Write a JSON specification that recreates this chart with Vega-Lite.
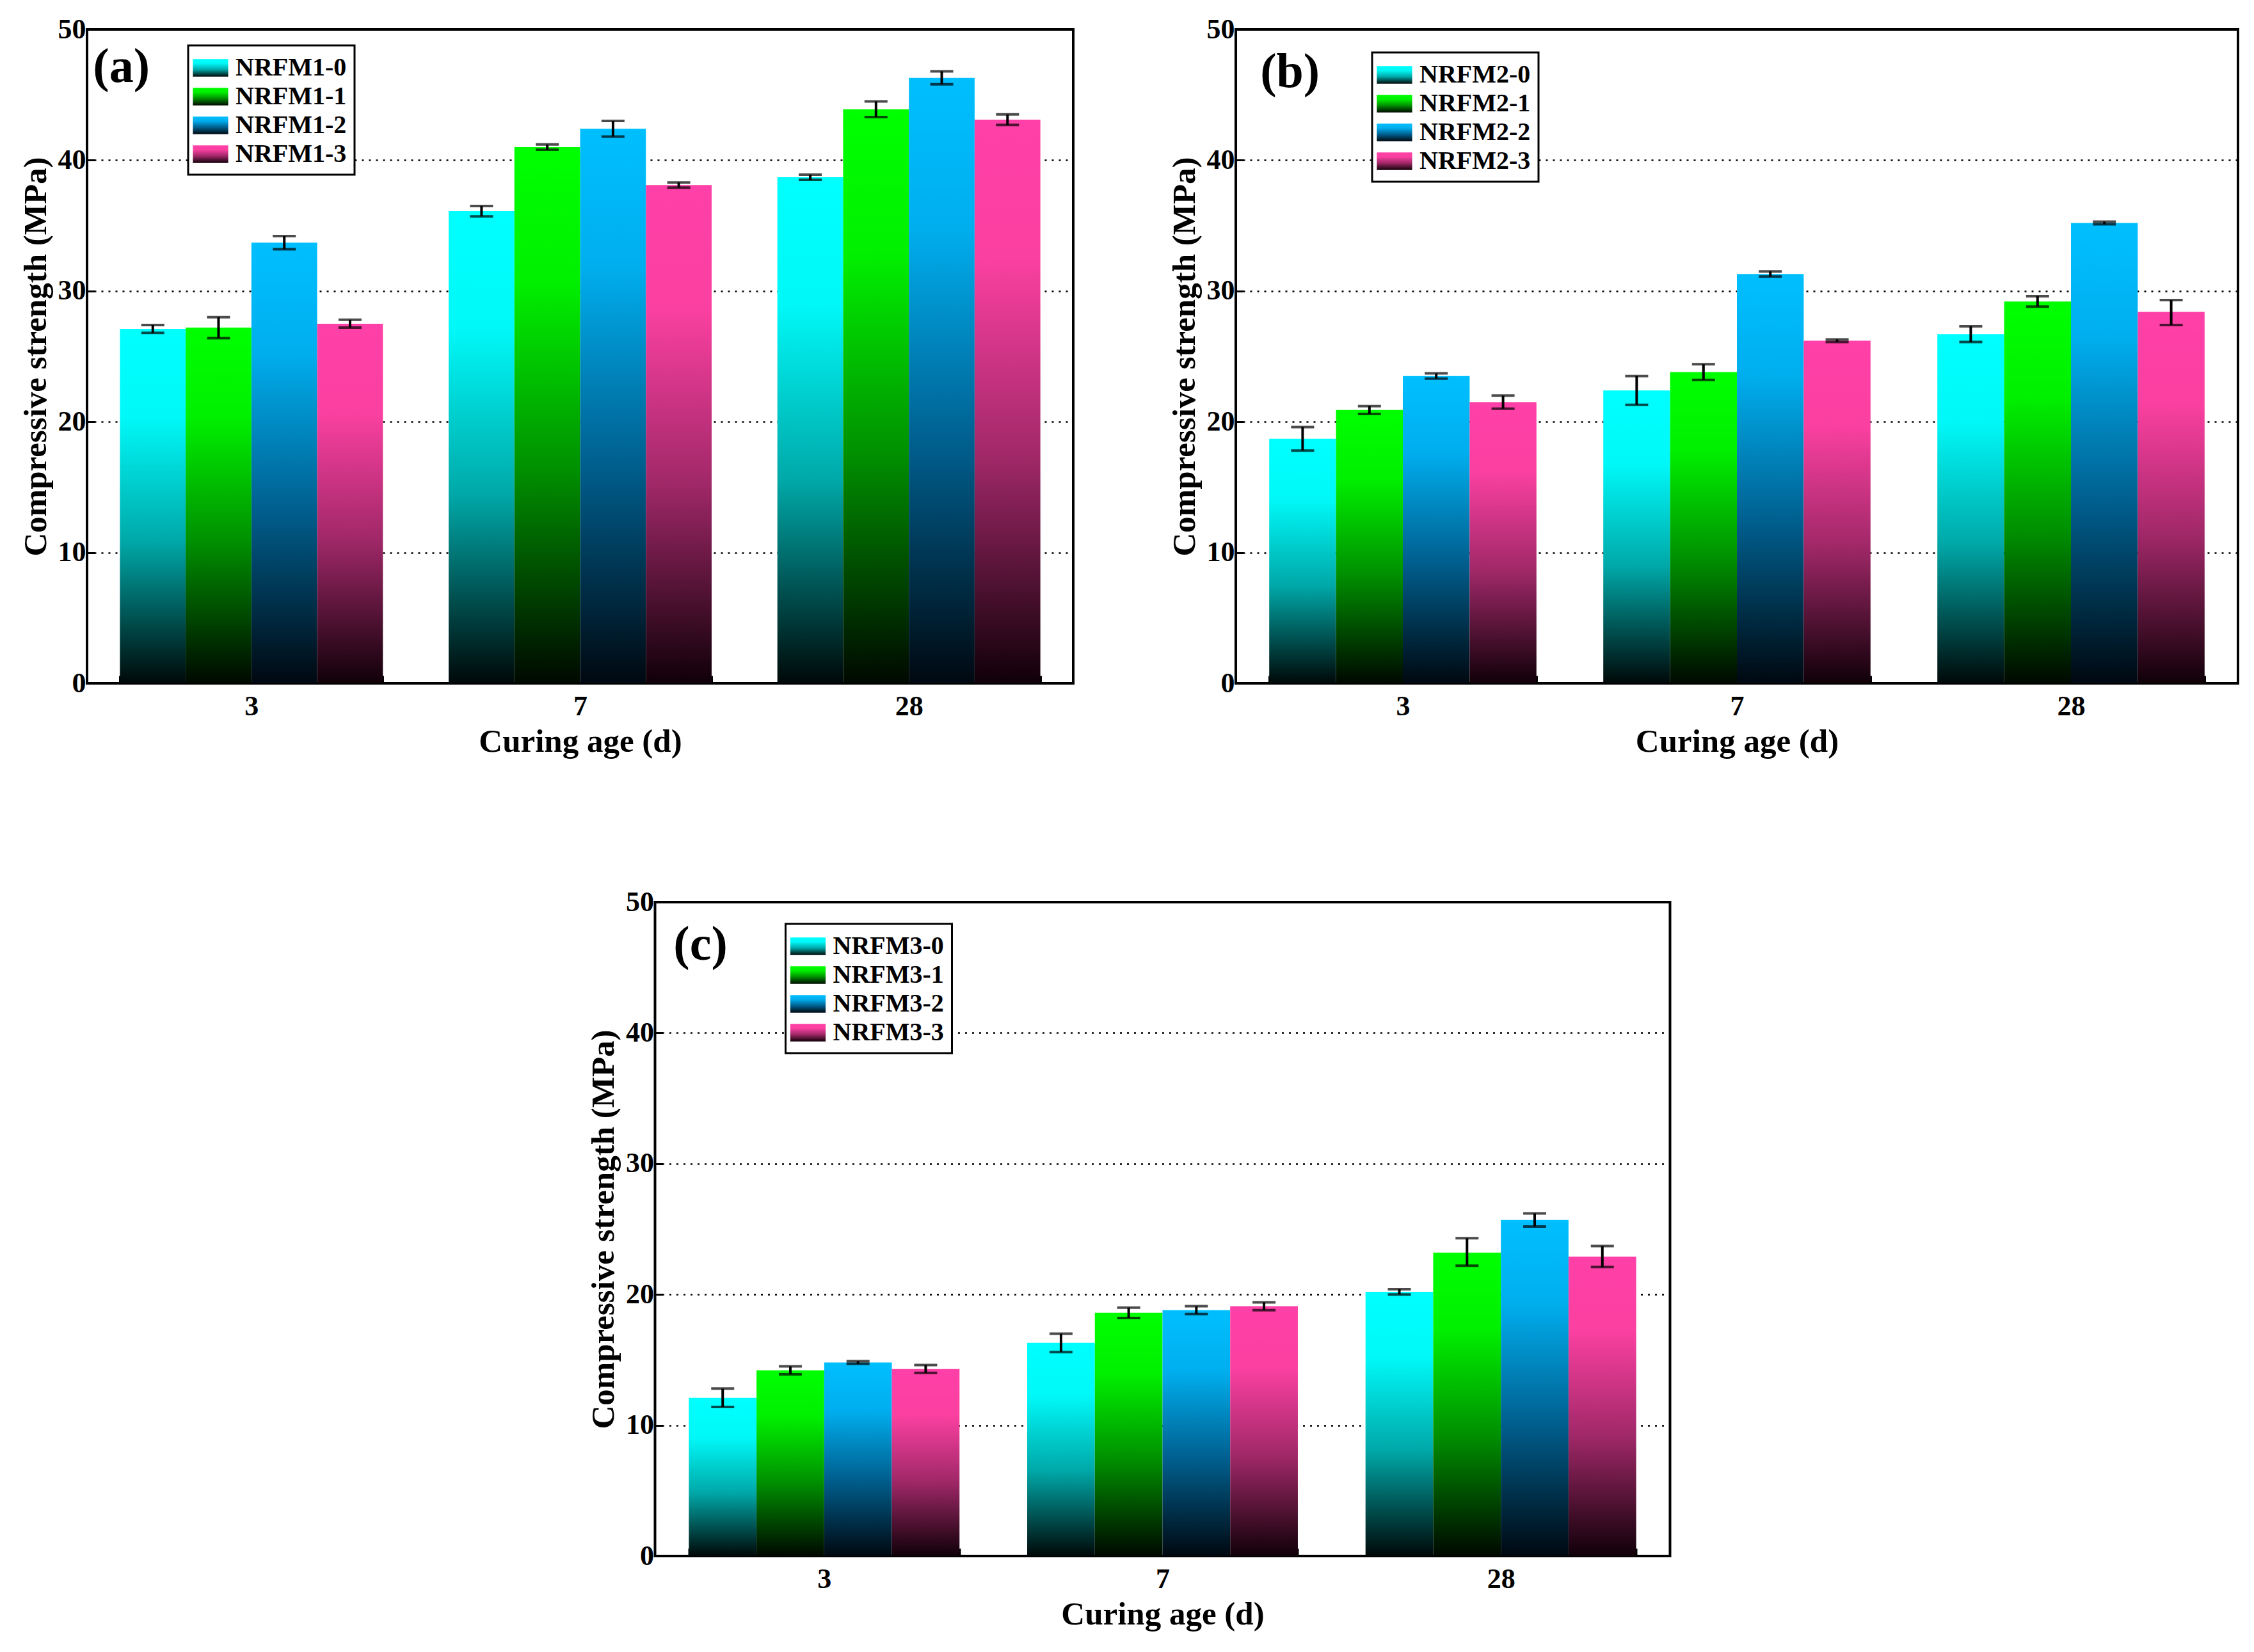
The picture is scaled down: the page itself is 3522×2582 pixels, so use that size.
{
  "$schema": "https://vega.github.io/schema/vega-lite/v6.json",
  "padding": {"left": 28, "top": 22, "right": 0, "bottom": 0},
  "background": "white",
  "datasets": {
    "a": [
      {"age": "3", "series": "NRFM1-0", "strength": 27.1, "lo": 26.8, "hi": 27.4},
      {"age": "3", "series": "NRFM1-1", "strength": 27.2, "lo": 26.4, "hi": 28.0},
      {"age": "3", "series": "NRFM1-2", "strength": 33.7, "lo": 33.2, "hi": 34.2},
      {"age": "3", "series": "NRFM1-3", "strength": 27.5, "lo": 27.2, "hi": 27.8},
      {"age": "7", "series": "NRFM1-0", "strength": 36.1, "lo": 35.7, "hi": 36.5},
      {"age": "7", "series": "NRFM1-1", "strength": 41.0, "lo": 40.8, "hi": 41.2},
      {"age": "7", "series": "NRFM1-2", "strength": 42.4, "lo": 41.8, "hi": 43.0},
      {"age": "7", "series": "NRFM1-3", "strength": 38.1, "lo": 37.9, "hi": 38.3},
      {"age": "28", "series": "NRFM1-0", "strength": 38.7, "lo": 38.5, "hi": 38.9},
      {"age": "28", "series": "NRFM1-1", "strength": 43.9, "lo": 43.3, "hi": 44.5},
      {"age": "28", "series": "NRFM1-2", "strength": 46.3, "lo": 45.8, "hi": 46.8},
      {"age": "28", "series": "NRFM1-3", "strength": 43.1, "lo": 42.7, "hi": 43.5}
    ],
    "b": [
      {"age": "3", "series": "NRFM2-0", "strength": 18.7, "lo": 17.8, "hi": 19.6},
      {"age": "3", "series": "NRFM2-1", "strength": 20.9, "lo": 20.6, "hi": 21.2},
      {"age": "3", "series": "NRFM2-2", "strength": 23.5, "lo": 23.3, "hi": 23.7},
      {"age": "3", "series": "NRFM2-3", "strength": 21.5, "lo": 21.0, "hi": 22.0},
      {"age": "7", "series": "NRFM2-0", "strength": 22.4, "lo": 21.3, "hi": 23.5},
      {"age": "7", "series": "NRFM2-1", "strength": 23.8, "lo": 23.2, "hi": 24.4},
      {"age": "7", "series": "NRFM2-2", "strength": 31.3, "lo": 31.1, "hi": 31.5},
      {"age": "7", "series": "NRFM2-3", "strength": 26.2, "lo": 26.1, "hi": 26.3},
      {"age": "28", "series": "NRFM2-0", "strength": 26.7, "lo": 26.1, "hi": 27.3},
      {"age": "28", "series": "NRFM2-1", "strength": 29.2, "lo": 28.8, "hi": 29.6},
      {"age": "28", "series": "NRFM2-2", "strength": 35.2, "lo": 35.1, "hi": 35.3},
      {"age": "28", "series": "NRFM2-3", "strength": 28.4, "lo": 27.4, "hi": 29.3}
    ],
    "c": [
      {"age": "3", "series": "NRFM3-0", "strength": 12.1, "lo": 11.4, "hi": 12.8},
      {"age": "3", "series": "NRFM3-1", "strength": 14.2, "lo": 13.9, "hi": 14.5},
      {"age": "3", "series": "NRFM3-2", "strength": 14.8, "lo": 14.7, "hi": 14.9},
      {"age": "3", "series": "NRFM3-3", "strength": 14.3, "lo": 14.0, "hi": 14.6},
      {"age": "7", "series": "NRFM3-0", "strength": 16.3, "lo": 15.6, "hi": 17.0},
      {"age": "7", "series": "NRFM3-1", "strength": 18.6, "lo": 18.2, "hi": 19.0},
      {"age": "7", "series": "NRFM3-2", "strength": 18.8, "lo": 18.5, "hi": 19.1},
      {"age": "7", "series": "NRFM3-3", "strength": 19.1, "lo": 18.8, "hi": 19.4},
      {"age": "28", "series": "NRFM3-0", "strength": 20.2, "lo": 20.0, "hi": 20.4},
      {"age": "28", "series": "NRFM3-1", "strength": 23.2, "lo": 22.2, "hi": 24.3},
      {"age": "28", "series": "NRFM3-2", "strength": 25.7, "lo": 25.2, "hi": 26.2},
      {"age": "28", "series": "NRFM3-3", "strength": 22.9, "lo": 22.1, "hi": 23.7}
    ]
  },
  "resolve": {"scale": {"color": "independent", "xOffset": "independent", "x": "independent", "y": "independent"}, "legend": {"color": "independent"}},
  "center": true,
  "spacing": 200,
  "vconcat": [
    {
      "hconcat": [
        {
          "width": 1541, "height": 1022,
          "encoding": {
            "x": {"field": "age", "type": "nominal", "sort": ["3", "7", "28"], "scale": {"type": "band", "paddingInner": 0.2, "paddingOuter": 0.1}, "axis": {"title": "Curing age (d)"}}
          },
          "layer": [
            {
              "data": {"name": "a"},
              "mark": {"type": "bar", "strokeWidth": 0},
              "encoding": {
                "xOffset": {"field": "series", "type": "nominal", "scale": {"type": "band", "paddingInner": 0, "paddingOuter": 0}},
                "y": {"field": "strength", "type": "quantitative", "scale": {"domain": [0, 50]}, "axis": {"title": "Compressive strength (MPa)", "values": [0, 10, 20, 30, 40, 50], "grid": true}},
                "color": {"field": "series", "type": "nominal", "scale": {"range": [
                  {"expr": "{gradient: 'linear', x1: 0, y1: 0, x2: 0, y2: 1, stops: [{offset: 0, color: '#00FFFF'}, {offset: 0.25, color: '#00F8F8'}, {offset: 0.6, color: '#00A8A8'}, {offset: 1, color: '#000808'}]}"},
                  {"expr": "{gradient: 'linear', x1: 0, y1: 0, x2: 0, y2: 1, stops: [{offset: 0, color: '#00FF00'}, {offset: 0.25, color: '#00F000'}, {offset: 0.6, color: '#009000'}, {offset: 1, color: '#000800'}]}"},
                  {"expr": "{gradient: 'linear', x1: 0, y1: 0, x2: 0, y2: 1, stops: [{offset: 0, color: '#00BFFF'}, {offset: 0.25, color: '#00AEEE'}, {offset: 0.6, color: '#006090'}, {offset: 1, color: '#000810'}]}"},
                  {"expr": "{gradient: 'linear', x1: 0, y1: 0, x2: 0, y2: 1, stops: [{offset: 0, color: '#FF40A8'}, {offset: 0.25, color: '#FA40A0'}, {offset: 0.6, color: '#A02868'}, {offset: 1, color: '#100008'}]}"}
                ]}, "legend": {"title": null, "orient": "none", "legendX": 158, "legendY": 25}}
              }
            },
            {
              "data": {"name": "a"},
              "mark": {"type": "rule", "color": "black", "strokeWidth": 4},
              "encoding": {"xOffset": {"field": "series", "type": "nominal"}, "y": {"field": "lo", "type": "quantitative", "title": "Compressive strength (MPa)"}, "y2": {"field": "hi"}}
            },
            {
              "data": {"name": "a"},
              "mark": {"type": "tick", "color": "black", "thickness": 4, "size": 36},
              "encoding": {"xOffset": {"field": "series", "type": "nominal"}, "y": {"field": "lo", "type": "quantitative", "title": "Compressive strength (MPa)"}}
            },
            {
              "data": {"name": "a"},
              "mark": {"type": "tick", "color": "black", "thickness": 4, "size": 36},
              "encoding": {"xOffset": {"field": "series", "type": "nominal"}, "y": {"field": "hi", "type": "quantitative", "title": "Compressive strength (MPa)"}}
            },
            {
              "data": {"values": [{"tag": "(a)"}]},
              "mark": {"type": "text", "align": "left", "baseline": "alphabetic", "dx": -42, "fontSize": 76, "font": "Liberation Serif", "fontWeight": "bold", "color": "black"},
              "encoding": {"x": {"datum": "3", "type": "nominal", "bandPosition": 0}, "y": {"datum": 46, "type": "quantitative"}, "text": {"field": "tag"}}
            }
          ]
        },
        {
          "width": 1566, "height": 1022,
          "encoding": {
            "x": {"field": "age", "type": "nominal", "sort": ["3", "7", "28"], "scale": {"type": "band", "paddingInner": 0.2, "paddingOuter": 0.1}, "axis": {"title": "Curing age (d)"}}
          },
          "layer": [
            {
              "data": {"name": "b"},
              "mark": {"type": "bar", "strokeWidth": 0},
              "encoding": {
                "xOffset": {"field": "series", "type": "nominal", "scale": {"type": "band", "paddingInner": 0, "paddingOuter": 0}},
                "y": {"field": "strength", "type": "quantitative", "scale": {"domain": [0, 50]}, "axis": {"title": "Compressive strength (MPa)", "values": [0, 10, 20, 30, 40, 50], "grid": true}},
                "color": {"field": "series", "type": "nominal", "scale": {"range": [
                  {"expr": "{gradient: 'linear', x1: 0, y1: 0, x2: 0, y2: 1, stops: [{offset: 0, color: '#00FFFF'}, {offset: 0.25, color: '#00F8F8'}, {offset: 0.6, color: '#00A8A8'}, {offset: 1, color: '#000808'}]}"},
                  {"expr": "{gradient: 'linear', x1: 0, y1: 0, x2: 0, y2: 1, stops: [{offset: 0, color: '#00FF00'}, {offset: 0.25, color: '#00F000'}, {offset: 0.6, color: '#009000'}, {offset: 1, color: '#000800'}]}"},
                  {"expr": "{gradient: 'linear', x1: 0, y1: 0, x2: 0, y2: 1, stops: [{offset: 0, color: '#00BFFF'}, {offset: 0.25, color: '#00AEEE'}, {offset: 0.6, color: '#006090'}, {offset: 1, color: '#000810'}]}"},
                  {"expr": "{gradient: 'linear', x1: 0, y1: 0, x2: 0, y2: 1, stops: [{offset: 0, color: '#FF40A8'}, {offset: 0.25, color: '#FA40A0'}, {offset: 0.6, color: '#A02868'}, {offset: 1, color: '#100008'}]}"}
                ]}, "legend": {"title": null, "orient": "none", "legendX": 213, "legendY": 36}}
              }
            },
            {
              "data": {"name": "b"},
              "mark": {"type": "rule", "color": "black", "strokeWidth": 4},
              "encoding": {"xOffset": {"field": "series", "type": "nominal"}, "y": {"field": "lo", "type": "quantitative", "title": "Compressive strength (MPa)"}, "y2": {"field": "hi"}}
            },
            {
              "data": {"name": "b"},
              "mark": {"type": "tick", "color": "black", "thickness": 4, "size": 36},
              "encoding": {"xOffset": {"field": "series", "type": "nominal"}, "y": {"field": "lo", "type": "quantitative", "title": "Compressive strength (MPa)"}}
            },
            {
              "data": {"name": "b"},
              "mark": {"type": "tick", "color": "black", "thickness": 4, "size": 36},
              "encoding": {"xOffset": {"field": "series", "type": "nominal"}, "y": {"field": "hi", "type": "quantitative", "title": "Compressive strength (MPa)"}}
            },
            {
              "data": {"values": [{"tag": "(b)"}]},
              "mark": {"type": "text", "align": "left", "baseline": "alphabetic", "dx": -14, "fontSize": 76, "font": "Liberation Serif", "fontWeight": "bold", "color": "black"},
              "encoding": {"x": {"datum": "3", "type": "nominal", "bandPosition": 0}, "y": {"datum": 45.6, "type": "quantitative"}, "text": {"field": "tag"}}
            }
          ]
        }
      ],
      "spacing": 144,
      "resolve": {"scale": {"color": "independent", "xOffset": "independent", "x": "independent", "y": "independent"}, "legend": {"color": "independent"}}
    },
    {
      "width": 1586, "height": 1022,
      "encoding": {
        "x": {"field": "age", "type": "nominal", "sort": ["3", "7", "28"], "scale": {"type": "band", "paddingInner": 0.2, "paddingOuter": 0.1}, "axis": {"title": "Curing age (d)"}}
      },
      "layer": [
        {
          "data": {"name": "c"},
          "mark": {"type": "bar", "strokeWidth": 0},
          "encoding": {
            "xOffset": {"field": "series", "type": "nominal", "scale": {"type": "band", "paddingInner": 0, "paddingOuter": 0}},
            "y": {"field": "strength", "type": "quantitative", "scale": {"domain": [0, 50]}, "axis": {"title": "Compressive strength (MPa)", "values": [0, 10, 20, 30, 40, 50], "grid": true}},
            "color": {"field": "series", "type": "nominal", "scale": {"range": [
              {"expr": "{gradient: 'linear', x1: 0, y1: 0, x2: 0, y2: 1, stops: [{offset: 0, color: '#00FFFF'}, {offset: 0.25, color: '#00F8F8'}, {offset: 0.6, color: '#00A8A8'}, {offset: 1, color: '#000808'}]}"},
              {"expr": "{gradient: 'linear', x1: 0, y1: 0, x2: 0, y2: 1, stops: [{offset: 0, color: '#00FF00'}, {offset: 0.25, color: '#00F000'}, {offset: 0.6, color: '#009000'}, {offset: 1, color: '#000800'}]}"},
              {"expr": "{gradient: 'linear', x1: 0, y1: 0, x2: 0, y2: 1, stops: [{offset: 0, color: '#00BFFF'}, {offset: 0.25, color: '#00AEEE'}, {offset: 0.6, color: '#006090'}, {offset: 1, color: '#000810'}]}"},
              {"expr": "{gradient: 'linear', x1: 0, y1: 0, x2: 0, y2: 1, stops: [{offset: 0, color: '#FF40A8'}, {offset: 0.25, color: '#FA40A0'}, {offset: 0.6, color: '#A02868'}, {offset: 1, color: '#100008'}]}"}
            ]}, "legend": {"title": null, "orient": "none", "legendX": 204, "legendY": 34}}
          }
        },
        {
          "data": {"name": "c"},
          "mark": {"type": "rule", "color": "black", "strokeWidth": 4},
          "encoding": {"xOffset": {"field": "series", "type": "nominal"}, "y": {"field": "lo", "type": "quantitative", "title": "Compressive strength (MPa)"}, "y2": {"field": "hi"}}
        },
        {
          "data": {"name": "c"},
          "mark": {"type": "tick", "color": "black", "thickness": 4, "size": 36},
          "encoding": {"xOffset": {"field": "series", "type": "nominal"}, "y": {"field": "lo", "type": "quantitative", "title": "Compressive strength (MPa)"}}
        },
        {
          "data": {"name": "c"},
          "mark": {"type": "tick", "color": "black", "thickness": 4, "size": 36},
          "encoding": {"xOffset": {"field": "series", "type": "nominal"}, "y": {"field": "hi", "type": "quantitative", "title": "Compressive strength (MPa)"}}
        },
        {
          "data": {"values": [{"tag": "(c)"}]},
          "mark": {"type": "text", "align": "left", "baseline": "alphabetic", "dx": -24, "fontSize": 76, "font": "Liberation Serif", "fontWeight": "bold", "color": "black"},
          "encoding": {"x": {"datum": "3", "type": "nominal", "bandPosition": 0}, "y": {"datum": 45.6, "type": "quantitative"}, "text": {"field": "tag"}}
        }
      ]
    }
  ],
  "config": {
    "font": "Liberation Serif",
    "view": {"stroke": "black", "strokeWidth": 4},
    "axis": {
      "labelFont": "Liberation Serif", "labelFontSize": 44, "labelFontWeight": "bold", "labelColor": "black",
      "titleFont": "Liberation Serif", "titleFontSize": 51, "titleFontWeight": "bold", "titleColor": "black",
      "domain": false, "tickColor": "black", "tickWidth": 3, "tickSize": -12,
      "gridColor": "black", "gridDash": [3, 8], "gridWidth": 2.5
    },
    "axisX": {"labelAngle": 0, "tickBand": "extent", "labelPadding": 26, "titlePadding": 8},
    "axisY": {"labelPadding": 14, "titlePadding": 8},
    "legend": {
      "labelFont": "Liberation Serif", "labelFontSize": 40, "labelFontWeight": "bold", "labelColor": "black", "labelLimit": 500,
      "fillColor": "white", "strokeColor": "black", "strokeWidth": 3, "padding": 12,
      "rowPadding": 2, "symbolType": "M-1.2,-0.6H1.2V0.6H-1.2Z", "symbolSize": 2116, "symbolStrokeWidth": 0, "labelOffset": 16
    }
  }
}
